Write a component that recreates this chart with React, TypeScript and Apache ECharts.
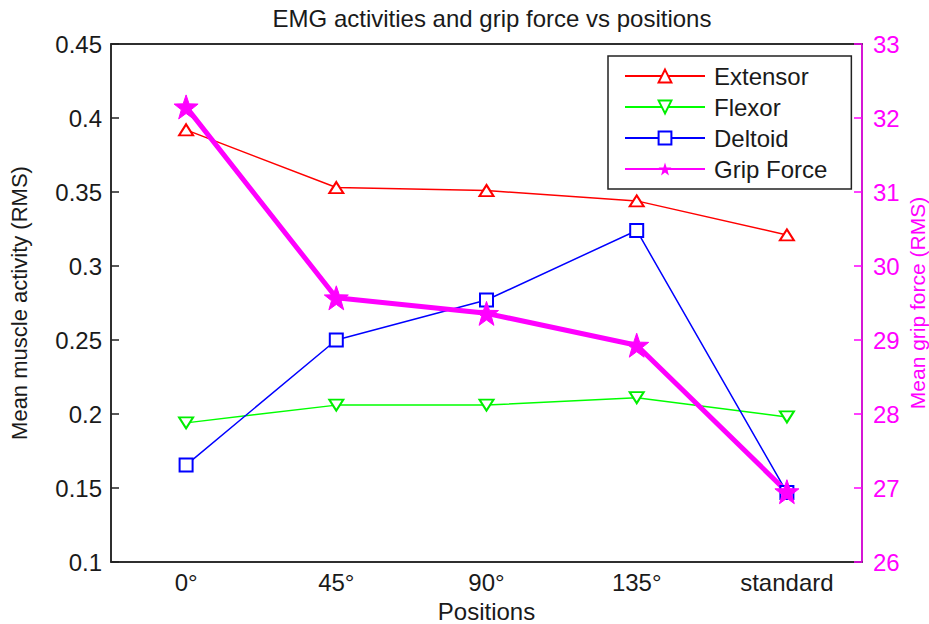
import React, { useEffect, useRef } from "react";
import * as echarts from "echarts";

const positions = ["0°", "45°", "90°", "135°", "standard"];
const extensor = [0.392, 0.353, 0.351, 0.344, 0.321];
const flexor = [0.194, 0.206, 0.206, 0.211, 0.198];
const deltoid = [0.1655, 0.25, 0.277, 0.324, 0.147];
const gripForce = [32.15, 29.57, 29.36, 28.93, 26.95];

const STAR =
  "path://M50 0 L61.76 33.82 L97.55 34.55 L69.02 56.18 L79.39 90.45 L50 70 L20.61 90.45 L30.98 56.18 L2.45 34.55 L38.24 33.82 Z";

const FONT = "Liberation Sans, Arial, sans-serif";
const TXT = "#1a1a1a";

export default function App() {
  const ref = useRef<HTMLDivElement>(null);
  useEffect(() => {
    if (!ref.current) return;
    const chart = echarts.init(ref.current, undefined, { renderer: "svg" });
    chart.setOption({
      animation: false,
      backgroundColor: "#ffffff",
      textStyle: { fontFamily: FONT },
      title: {
        text: "EMG activities and grip force vs positions",
        left: 487,
        top: 1,
        textAlign: "center",
        textStyle: { fontFamily: FONT, fontSize: 24, fontWeight: "normal", color: TXT },
      },
      grid: {
        left: 111,
        top: 44,
        right: 67,
        bottom: 62,
        containLabel: false,
        outerBoundsMode: "none",
        show: true,
        borderColor: "#222",
        borderWidth: 1.5,
        backgroundColor: "transparent",
      },
      legend: {
        orient: "vertical",
        left: 608,
        top: 56,
        itemWidth: 80,
        itemHeight: 16,
        itemGap: 7,
        padding: [8, 24, 8, 16],
        borderColor: "#222",
        borderWidth: 1.5,
        borderRadius: 0,
        backgroundColor: "#fff",
        textStyle: { fontFamily: FONT, fontSize: 24, color: TXT, padding: [0, 0, 0, 4] },
        data: ["Extensor", "Flexor", "Deltoid", "Grip Force"],
      },
      xAxis: [
        {
          type: "category",
          data: positions,
          boundaryGap: true,
          name: "Positions",
          nameLocation: "middle",
          nameGap: 37,
          nameMoveOverlap: false,
          nameTextStyle: { fontFamily: FONT, fontSize: 24, color: TXT },
          axisLine: { lineStyle: { color: "#222", width: 1.5 } },
          axisTick: { inside: true, alignWithLabel: true, length: 8, lineStyle: { color: "#222", width: 1.5 } },
          axisLabel: { fontFamily: FONT, fontSize: 24, color: TXT, margin: 8 },
          splitLine: { show: false },
        },
        {
          type: "category",
          data: positions,
          position: "top",
          boundaryGap: true,
          axisLine: { lineStyle: { color: "#222", width: 1.5 } },
          axisTick: { inside: true, alignWithLabel: true, length: 8, lineStyle: { color: "#222", width: 1.5 } },
          axisLabel: { show: false },
          splitLine: { show: false },
        },
      ],
      yAxis: [
        {
          type: "value",
          min: 0.1,
          max: 0.45,
          interval: 0.05,
          name: "Mean muscle activity (RMS)",
          nameLocation: "middle",
          nameGap: 81,
          nameRotate: 90,
          nameMoveOverlap: false,
          nameTextStyle: { fontFamily: FONT, fontSize: 22, color: TXT },
          axisLine: { show: true, lineStyle: { color: "#222", width: 1.5 } },
          axisTick: { show: true, inside: true, length: 8, lineStyle: { color: "#222", width: 1.5 } },
          axisLabel: {
            fontFamily: FONT,
            fontSize: 24,
            color: TXT,
            margin: 9,
            formatter: (v: number) => String(parseFloat(v.toFixed(2))),
          },
          splitLine: { show: false },
        },
        {
          type: "value",
          min: 26,
          max: 33,
          interval: 1,
          position: "right",
          name: "Mean grip force (RMS)",
          nameLocation: "middle",
          nameGap: 45,
          nameRotate: 90,
          nameMoveOverlap: false,
          nameTextStyle: { fontFamily: FONT, fontSize: 21, color: "#ff00ff" },
          axisLine: { show: true, lineStyle: { color: "#ff00ff", width: 1.5 } },
          axisTick: { show: true, inside: true, length: 8, lineStyle: { color: "#ff00ff", width: 1.5 } },
          axisLabel: { fontFamily: FONT, fontSize: 24, color: "#ff00ff", margin: 11 },
          splitLine: { show: false },
        },
      ],
      series: [
        {
          name: "Extensor",
          type: "line",
          data: extensor,
          symbol: "triangle",
          symbolSize: [14, 11],
          lineStyle: { color: "#ff0000", width: 1.5 },
          itemStyle: { color: "#fff", borderColor: "#ff0000", borderWidth: 2 },
        },
        {
          name: "Flexor",
          type: "line",
          data: flexor,
          symbol: "triangle",
          symbolRotate: 180,
          symbolSize: [14, 11],
          lineStyle: { color: "#00ff00", width: 1.5 },
          itemStyle: { color: "#fff", borderColor: "#00ee00", borderWidth: 2 },
        },
        {
          name: "Deltoid",
          type: "line",
          data: deltoid,
          symbol: "rect",
          symbolSize: 13,
          lineStyle: { color: "#0000ff", width: 1.5 },
          itemStyle: { color: "#fff", borderColor: "#0000ff", borderWidth: 2 },
        },
        {
          name: "Grip Force",
          type: "line",
          yAxisIndex: 1,
          data: gripForce,
          symbol: STAR,
          symbolSize: 24,
          lineStyle: { color: "#ff00ff", width: 5 },
          itemStyle: { color: "#ff00ff", borderColor: "#ff00ff" },
        },
      ],
    });
    return () => chart.dispose();
  }, []);
  return (
    <div
      ref={ref}
      style={{ position: "fixed", left: 0, top: 0, width: 929, height: 624 }}
    />
  );
}
